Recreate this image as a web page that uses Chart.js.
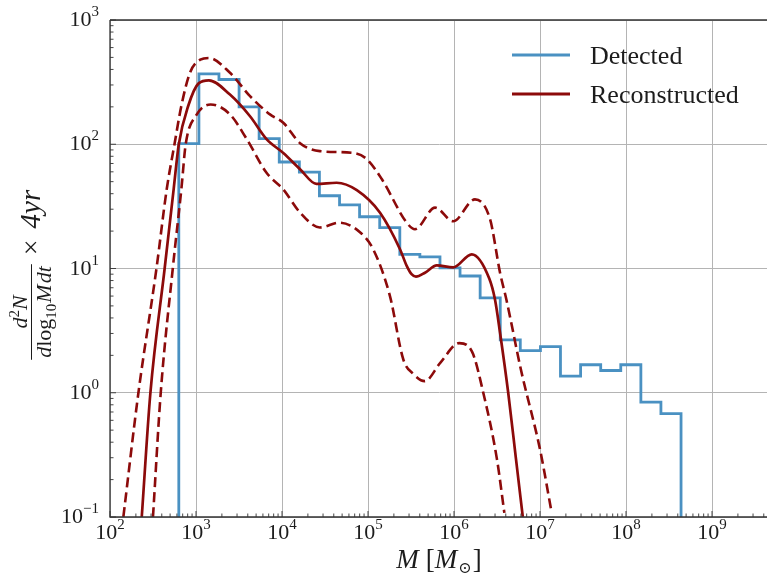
<!DOCTYPE html>
<html>
<head>
<meta charset="utf-8">
<script src="https://cdn.jsdelivr.net/npm/chart.js@4.4.1/dist/chart.umd.min.js"></script>
<style>
  html, body { margin: 0; padding: 0; background: #fff; overflow: hidden; }
  #wrap { width: 772px; height: 575px; }
</style>
</head>
<body>
<div id="wrap"><canvas id="massChart" width="772" height="575"></canvas></div>
<script>
// Detected histogram: bin edges in M [Msun] and heights
const binEdges = [631, 1081, 1849, 3170, 5420, 9290, 1.592e4, 2.723e4, 4.667e4, 7.98e4,
  1.368e5, 2.344e5, 4.01e5, 6.87e5, 1.175e6, 2.014e6, 3.45e6, 5.9e6, 1.012e7, 1.73e7,
  2.965e7, 5.08e7, 8.69e7, 1.489e8, 2.547e8, 4.365e8];
const detected = [101, 369, 332, 200, 111, 72, 59.6, 38.5, 32.5, 26.1, 21.3, 13.0, 12.4,
  10.1, 8.7, 5.8, 2.66, 2.18, 2.35, 1.36, 1.68, 1.51, 1.68, 0.84, 0.68];

// Reconstructed (solid) curve
const recoM = [234, 295, 432, 550, 631, 813, 1072, 1413, 2483, 4246, 6607, 1.035e4, 1.622e4,
  2.512e4, 4.315e4, 7.413e4, 1.38e5, 2.355e5, 2.82e5, 3.21e5, 3.61e5, 4.6e5, 6.31e5, 9.77e5,
  1.607e6, 2.57e6, 3.0e6, 3.43e6, 4.27e6, 5.25e6, 6.31e6];
const recoY = [0.1, 1.0, 10, 43.6, 100, 204, 309, 327, 251, 168, 110, 85, 63, 48, 49, 42.7,
  28.1, 14.3, 10.5, 9.0, 8.6, 9.25, 10.6, 10.2, 13.0, 8.3, 5.6, 3.04, 1.0, 0.295, 0.1];

// Upper / lower bands (dashed)
const upperM = [143, 214, 347, 457, 562, 676, 851, 1122, 1413, 2483, 4246, 7244, 1.035e4,
  1.622e4, 2.754e4, 6.76e4, 9.66e4, 1.445e5, 2.82e5, 3.52e5, 6.03e5, 9.77e5, 1.754e6,
  2.63e6, 3.43e6, 4.07e6, 6.03e6, 1.0e7, 1.368e7];
const upperY = [0.1, 1, 10, 43.6, 100, 204, 376, 479, 495, 376, 244, 174, 149, 102, 88, 85,
  76, 52.5, 23.4, 20.7, 30.9, 24, 36, 24.8, 9.25, 5.6, 1.51, 0.35, 0.108];

const lowerM = [316, 389, 537, 676, 759, 1000, 1479, 2483, 3890, 6607, 1.035e4, 1.622e4,
  2.754e4, 4.677e4, 8.128e4, 1.148e5, 1.8e5, 2.57e5, 3.39e5, 4.57e5, 6.92e5, 1.148e6,
  1.62e6, 2.19e6, 3.16e6, 3.85e6];
const lowerY = [0.1, 1, 10, 43.6, 100, 170, 209, 174, 110, 58.9, 43.3, 28.2, 21.4, 23.4,
  19.5, 14.3, 6.0, 1.86, 1.41, 1.24, 1.74, 2.51, 2.14, 1.0, 0.291, 0.108];

// Axis ticks
const xTicks = [1e2, 1e3, 1e4, 1e5, 1e6, 1e7, 1e8, 1e9];
const xTickExp = ["2", "3", "4", "5", "6", "7", "8", "9"];
const yTicks = [0.1, 1, 10, 100, 1000];
const yTickExp = ["\u22121", "0", "1", "2", "3"];

const BLUE = "#4a91c2";
const RED = "#8c0a0a";
const INK = "#1c1c1c";
const SERIF = '"Liberation Serif", "DejaVu Serif", serif';

// step outline of the histogram
const histPoints = [{ x: binEdges[0], y: 0.01 }];
detected.forEach((v, i) => histPoints.push({ x: binEdges[i], y: v }));
histPoints.push({ x: binEdges[binEdges.length - 1], y: detected[detected.length - 1] });
histPoints.push({ x: binEdges[binEdges.length - 1], y: 0.01 });

const toPts = (xs, ys) => xs.map((m, i) => ({ x: m, y: ys[i] }));

function drawPow(ctx, exp, x, y, align) {
  ctx.font = "22px " + SERIF;
  const bw = ctx.measureText("10").width;
  ctx.font = "15px " + SERIF;
  const ew = ctx.measureText(exp).width;
  const left = align === "center" ? x - (bw + ew) / 2 : x - bw - ew;
  ctx.font = "22px " + SERIF;
  ctx.fillText("10", left, y);
  ctx.font = "15px " + SERIF;
  ctx.fillText(exp, left + bw, y - 10);
}

// pieces are [text, font, dy, extra gap]
function runWidth(ctx, parts) {
  let w = 0;
  parts.forEach((p) => { ctx.font = p[1]; w += ctx.measureText(p[0]).width + (p[3] || 0); });
  return w;
}
function drawRun(ctx, parts, x, y) {
  parts.forEach((p) => {
    ctx.font = p[1];
    ctx.fillText(p[0], x, y + (p[2] || 0));
    x += ctx.measureText(p[0]).width + (p[3] || 0);
  });
}

const decorations = {
  id: "decorations",
  afterDraw(chart) {
    const { ctx, chartArea: a, scales } = chart;
    const xs = scales.x, ys = scales.y;
    ctx.save();

    // spines
    ctx.strokeStyle = "#333";
    ctx.lineWidth = 1.3;
    ctx.beginPath();
    ctx.moveTo(a.left, a.top); ctx.lineTo(a.right + 5, a.top);
    ctx.moveTo(a.left, a.top); ctx.lineTo(a.left, a.bottom);
    ctx.lineTo(a.right + 5, a.bottom);
    ctx.stroke();

    // inward ticks
    ctx.lineWidth = 0.9;
    ctx.beginPath();
    for (let e = 2; e <= 9; e++) {
      for (let k = 1; k <= 9; k++) {
        const v = k * Math.pow(10, e);
        if (v > xs.max) break;
        const px = xs.getPixelForValue(v);
        const len = k === 1 ? 6 : 3.5;
        ctx.moveTo(px, a.bottom); ctx.lineTo(px, a.bottom - len);
      }
    }
    for (let e = -1; e <= 3; e++) {
      for (let k = 1; k <= 9; k++) {
        const v = k * Math.pow(10, e);
        if (v > ys.max) break;
        const py = ys.getPixelForValue(v);
        const len = k === 1 ? 6 : 3.5;
        ctx.moveTo(a.left, py); ctx.lineTo(a.left + len, py);
      }
    }
    ctx.stroke();

    // tick labels
    ctx.fillStyle = INK;
    ctx.textBaseline = "alphabetic";
    ctx.textAlign = "left";
    xTicks.forEach((v, i) => drawPow(ctx, xTickExp[i], xs.getPixelForValue(v), 539, "center"));
    yTicks.forEach((v, i) => drawPow(ctx, yTickExp[i], 99, ys.getPixelForValue(v) + 6, "right"));

    // x title: M [M_sun]
    const it = "italic 27px " + SERIF, rm = "27px " + SERIF, sm = "16px " + SERIF;
    const xParts = [["M", it, 0, 7], ["[", rm], ["M", it, 0, 1], ["\u2299", sm, 5, 1], ["]", rm]];
    const xw = runWidth(ctx, xParts);
    drawRun(ctx, xParts, 439 - xw / 2, 568);

    // y title: d^2N / (d log10 M dt) x 4yr
    ctx.translate(31.5, 312);
    ctx.rotate(-Math.PI / 2);
    const fi = "italic 22px " + SERIF, fr = "22px " + SERIF, fs = "15px " + SERIF;
    const den = [["d", fi], ["log", fr], ["10", fs, 5, 1], ["M", fi, 0, 1], ["d", fi], ["t", fi]];
    const num = [["d", fi], ["2", fs, -8], ["N", fi]];
    const dw = runWidth(ctx, den);
    const nw = runWidth(ctx, num);
    drawRun(ctx, den, -dw / 2, 19);
    drawRun(ctx, num, -nw / 2, -5);
    ctx.strokeStyle = INK;
    ctx.lineWidth = 1;
    ctx.beginPath();
    ctx.moveTo(-dw / 2 - 2, 0); ctx.lineTo(dw / 2 + 2, 0);
    ctx.stroke();
    const tail = [["\u00d7", "28px " + SERIF, 0, 11], ["4", "italic 29px " + SERIF], ["yr", "italic 29px " + SERIF]];
    drawRun(ctx, tail, dw / 2 + 11, 8);
    ctx.setTransform(1, 0, 0, 1, 0, 0);

    // legend
    const legend = [["Detected", BLUE, 55], ["Reconstructed", RED, 94]];
    ctx.lineWidth = 3;
    legend.forEach(([label, color, ly]) => {
      ctx.strokeStyle = color;
      ctx.beginPath();
      ctx.moveTo(512, ly); ctx.lineTo(570, ly);
      ctx.stroke();
      ctx.fillStyle = INK;
      ctx.font = "26px " + SERIF;
      ctx.fillText(label, 590, ly + 9);
    });
    ctx.restore();
  },
};

const lineBase = {
  pointRadius: 0,
  fill: false,
  cubicInterpolationMode: "monotone",
};

new Chart(document.getElementById("massChart"), {
  type: "line",
  data: {
    datasets: [
      { ...lineBase, label: "Reconstructed", data: toPts(recoM, recoY), borderColor: RED, borderWidth: 2.7, order: 1 },
      { ...lineBase, label: "upper", data: toPts(upperM, upperY), borderColor: RED, borderWidth: 2.6, borderDash: [10, 5], order: 1 },
      { ...lineBase, label: "lower", data: toPts(lowerM, lowerY), borderColor: RED, borderWidth: 2.6, borderDash: [10, 5], order: 1 },
      { label: "Detected", data: histPoints, borderColor: BLUE, borderWidth: 2.8, pointRadius: 0, stepped: "before", fill: false, order: 5 },
    ],
  },
  options: {
    responsive: false,
    animation: false,
    layout: { padding: { left: 110, top: 20, right: 3, bottom: 58 } },
    plugins: { legend: { display: false }, tooltip: { enabled: false } },
    scales: {
      x: {
        type: "logarithmic",
        min: 100,
        max: 4.6e9,
        afterBuildTicks: (s) => { s.ticks = xTicks.map((v) => ({ value: v })); },
        ticks: { display: false },
        grid: { color: "#b4b4b4", lineWidth: 1, drawTicks: false },
        border: { display: false },
      },
      y: {
        type: "logarithmic",
        min: 0.1,
        max: 1000,
        afterBuildTicks: (s) => { s.ticks = yTicks.map((v) => ({ value: v })); },
        ticks: { display: false },
        grid: { color: "#b4b4b4", lineWidth: 1, drawTicks: false },
        border: { display: false },
      },
    },
  },
  plugins: [decorations],
});
</script>
</body>
</html>
